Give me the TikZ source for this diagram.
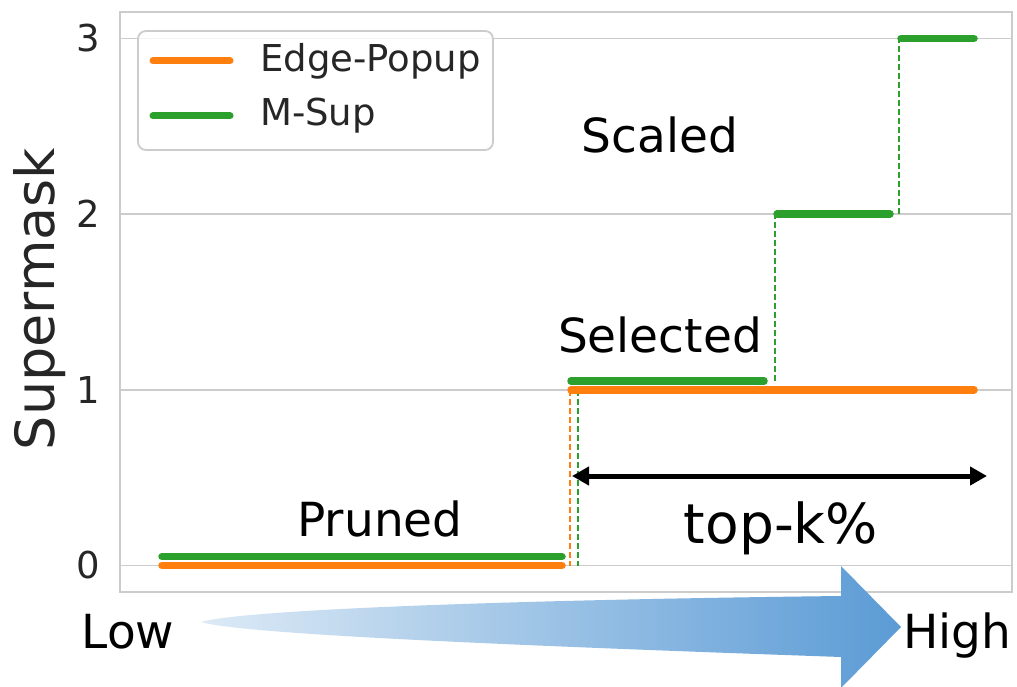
\documentclass[tikz,border=0pt]{standalone}
\usepackage{fontspec}
\setmainfont{DejaVu Sans}
\usetikzlibrary{arrows.meta}
\definecolor{mplorange}{HTML}{FF7F0E}
\definecolor{mplgreen}{HTML}{2CA02C}
\definecolor{gridgray}{HTML}{CCCCCC}
\definecolor{ticktext}{HTML}{262626}
\definecolor{arrowlight}{HTML}{DDEAF6}
\definecolor{arrowdark}{HTML}{5B9BD5}
\tikzset{
  gridline/.style={draw=gridgray, line width=1.6pt},
  series/.style={line width=7.5pt, line cap=round},
  drop/.style={line width=1.8pt, dash pattern=on 6pt off 3pt},
  ticklabel/.style={anchor=east, inner sep=0pt, text=ticktext, font=\fontsize{37}{44}\selectfont},
  legendlabel/.style={anchor=west, inner sep=0pt, text=ticktext, font=\fontsize{37}{44}\selectfont},
  annot/.style={anchor=base, inner sep=0pt, font=\fontsize{47}{56}\selectfont},
}
\begin{document}
\begin{tikzpicture}[x=1pt, y=-1pt]
\useasboundingbox (0,0) rectangle (1017,687);
\fill[white] (0,0) rectangle (1017,687);
% grid lines
\foreach \yy in {38.4,214.1,389.8,565.5} {
  \draw[gridline] (120,\yy) -- (1012,\yy);
}
% frame
\draw[gridline] (120,12) rectangle (1012,592);
% tick labels
\node[ticklabel] (t0) at (100,565.5) {0};
\node[ticklabel] (t1) at (100,389.8) {1};
\node[ticklabel] (t2) at (100,214.1) {2};
\node[ticklabel] (t3) at (100,38.4) {3};
% y label
\node[rotate=90, inner sep=0pt, text=ticktext, font=\fontsize{54}{64}\selectfont] (ylab) at (40,299) {Supermask};
% dashed drops
\draw[drop, mplorange] (570,390) -- (570,565.5);
\draw[drop, mplgreen] (578,390) -- (578,565.5);
\draw[drop, mplgreen] (775,381) -- (775,214.1);
\draw[drop, mplgreen] (899,214.1) -- (899,38.4);
% series
\draw[series, mplorange] (162,565.5) -- (562,565.5);
\draw[series, mplgreen] (162,556.7) -- (562,556.7);
\draw[series, mplorange] (571,389.8) -- (974,389.8);
\draw[series, mplgreen] (571,381) -- (764,381);
\draw[series, mplgreen] (777,214.1) -- (890,214.1);
\draw[series, mplgreen] (901,38.4) -- (974,38.4);
% legend
\draw[draw=gridgray, line width=1.8pt, fill=white, fill opacity=0.8, rounded corners=8pt] (138,31) rectangle (493,150);
\draw[series, line width=7pt, mplorange] (153,61) -- (230,61);
\draw[series, line width=7pt, mplgreen] (153,116) -- (230,116);
\node[legendlabel] (lg1) at (260,61) {Edge-Popup};
\node[legendlabel] (lg2) at (260,116) {M-Sup};
% annotations
\node[annot] (scaled) at (660,153) {Scaled};
\node[annot] (selected) at (660,352) {Selected};
\node[annot] (pruned) at (380,536) {Pruned};
\node[annot, font=\fontsize{55}{64}\selectfont] (topk) at (781,543) {top-k\%};
% top-k arrow
\coordinate (ka) at (572,476);
\coordinate (kb) at (987,476);
\draw[line width=5pt, {Triangle[length=17pt,width=18pt]}-{Triangle[length=17pt,width=18pt]}] (ka) -- (kb);
% bottom gradient arrow
\shade[left color=arrowlight, right color=arrowdark]
  (201,622) .. controls (240,610) and (500,600) .. (841,596)
  -- (841,566) -- (901,627) -- (841,688) -- (841,657)
  .. controls (500,645) and (240,634) .. (201,622) -- cycle;
\node[annot] (low) at (128,648) {Low};
\node[annot] (high) at (957,648) {High};
\end{tikzpicture}
\end{document}
